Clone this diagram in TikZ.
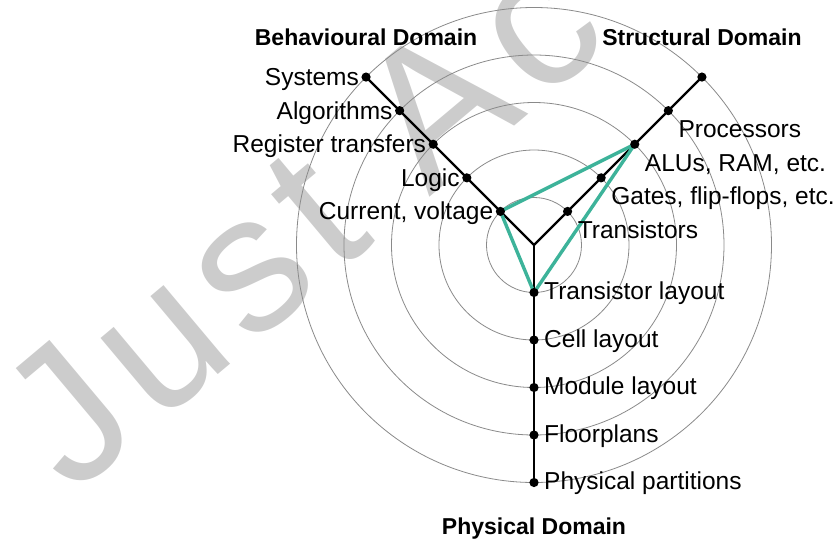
\documentclass[tikz,border=0pt]{standalone}
\usepackage{fontspec}
\setmainfont{Liberation Sans}
\newfontfamily\markfont[LetterSpace=7]{Liberation Sans}
\usetikzlibrary{calc}
\definecolor{yGreen}{HTML}{3DB39A}
\definecolor{yRing}{HTML}{8A8A8A}
\definecolor{yMark}{HTML}{CCCCCC}
\tikzset{
  % abstraction rings, kept light
  y/ring/.style={draw=yRing, line width=0.8pt},
  % the three domain axes
  y/axis/.style={draw=black, line width=2.4pt},
  y/dot/.style={fill=black},
  % level names and domain names
  y/lbl/.style={font=\fontsize{24.5}{30}\selectfont, inner sep=0pt},
  y/title/.style={font=\fontsize{23}{28}\selectfont\bfseries, inner sep=0pt},
  % design flow across the domains
  y/flow/.style={draw=yGreen, line width=3.4pt, line join=round},
  y/mark/.style={font=\markfont\fontsize{195}{230}\selectfont, text=yMark, inner sep=0pt},
}
\begin{document}
\begin{tikzpicture}[x=1pt,y=1pt]
  \useasboundingbox (-534,-297) rectangle (302,245);
  % watermark behind everything
  \begin{scope}
    \clip (-534,-297) rectangle (302,245);
    \node[y/mark, anchor=base west, rotate=40] (mark) at (-462,-252) {Just Ac};
  \end{scope}
  % rings, one per level
  \foreach \r in {1,...,5}
    \draw[y/ring] (0,0) circle[radius=\r*47.5];
  \coordinate (c) at (0,0);
  \foreach \i in {1,...,5}{
    \coordinate (b\i) at (135:\i*47.5);
    \coordinate (s\i) at (45:\i*47.5);
    \coordinate (p\i) at (270:\i*47.5);
  }
  \draw[y/axis] (b5) -- (c) -- (s5);
  \draw[y/axis] (c) -- (p5);
  \draw[y/flow] (b1) -- (s3) -- (p1) -- cycle;
  \foreach \i in {1,...,5}
    \foreach \d in {b,s,p}
      \fill[y/dot] (\d\i) circle[radius=4.6];
  % behavioural levels
  \foreach \i/\t in {1/{Current, voltage},2/Logic,3/Register transfers,4/Algorithms,5/Systems}
    \node[y/lbl, anchor=base east] (bl\i) at ($(b\i)+(-7,-8.5)$) {\t};
  % structural levels
  \foreach \i/\t in {1/Transistors,2/{Gates, flip-flops, etc.},3/{ALUs, RAM, etc.},4/Processors}
    \node[y/lbl, anchor=base west] (sl\i) at ($(s\i)+(10,-27)$) {\t};
  % physical levels
  \foreach \i/\t in {1/Transistor layout,2/Cell layout,3/Module layout,4/Floorplans,5/Physical partitions}
    \node[y/lbl, anchor=base west] (pl\i) at ($(p\i)+(10,-7)$) {\t};
  % domain names
  \node[y/title, anchor=base] (tb) at ($(b5)+(0,32)$) {Behavioural Domain};
  \node[y/title, anchor=base] (ts) at ($(s5)+(0,32)$) {Structural Domain};
  \node[y/title, anchor=base] (tp) at ($(p5)+(0,-52)$) {Physical Domain};
\end{tikzpicture}
\end{document}
